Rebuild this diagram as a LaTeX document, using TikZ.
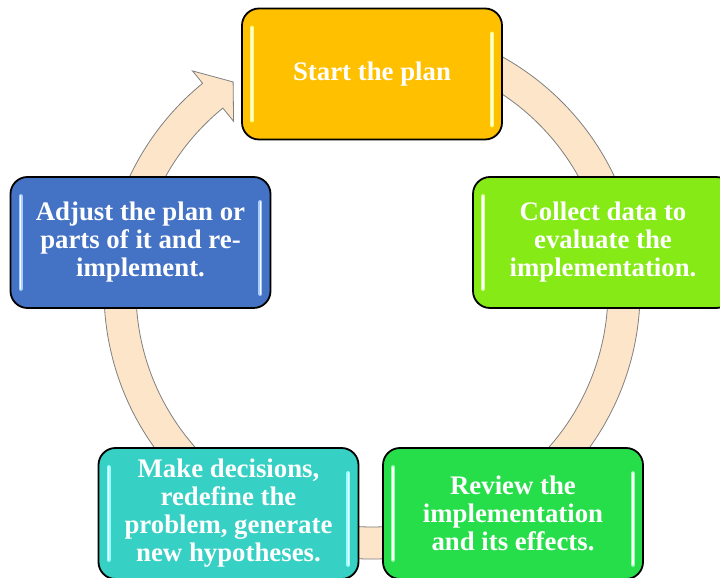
\documentclass[tikz,border=0pt]{standalone}
\usepackage{fontspec}
\setmainfont{Liberation Serif}
\usetikzlibrary{calc}
\definecolor{ringfill}{RGB}{253,229,201}
\definecolor{ringline}{RGB}{128,128,128}
\definecolor{cone}{RGB}{255,192,0}
\definecolor{ctwo}{RGB}{134,234,22}
\definecolor{cthree}{RGB}{38,222,74}
\definecolor{cfour}{RGB}{54,208,196}
\definecolor{cfive}{RGB}{68,114,196}
\definecolor{gone}{RGB}{255,255,100}
\definecolor{gtwo}{RGB}{220,255,160}
\definecolor{gthree}{RGB}{150,255,170}
\definecolor{gfour}{RGB}{150,255,255}
\definecolor{gfive}{RGB}{170,205,255}
\tikzset{
  box/.style={draw=black, line width=1.8pt, rounded corners=17pt,
    minimum width=260pt, minimum height=131pt, text=white, inner sep=0pt,
    font=\bfseries\fontsize{26.8}{28}\selectfont, align=center},
  gloss/.style={draw=#1, line width=4pt, line cap=round},
  glosscore/.style={draw=white, line width=1.4pt, line cap=round},
  ring/.style={fill=ringfill, draw=ringline, line width=0.8pt, line join=miter}
}
\begin{document}
\begin{tikzpicture}[x=1pt,y=1pt]
\useasboundingbox (0,0) rectangle (720,578);
\fill[white] (0,0) rectangle (720,578);
\coordinate (c) at (372,287);
% ring arrow
\draw[ring] ($(c)+(100:268pt)$) arc[start angle=100,end angle=-230.8,radius=268pt]
  -- ($(c)+(129.2:284pt)$) -- ($(c)+(123.6:251pt)$) -- ($(c)+(129.2:219pt)$)
  -- ($(c)+(129.2:236pt)$) arc[start angle=-230.8,end angle=100,radius=236pt] -- cycle;
% boxes
\node[box, fill=cone]   (b1) at (372,504)   {Start the plan};
\node[box, fill=ctwo]   (b2) at (603,335.5) {Collect data to\\evaluate the\\implementation.};
\node[box, fill=cthree] (b3) at (513,64.5)  {Review the\\implementation\\and its effects.};
\node[box, fill=cfour]  (b4) at (228.5,64.5){Make decisions,\\redefine the\\problem, generate\\new hypotheses.};
\node[box, fill=cfive]  (b5) at (140.5,335.5){Adjust the plan or\\parts of it and re-\\implement.};
% gloss strips
\foreach \b/\col in {b1/gone,b2/gtwo,b3/gthree,b4/gfour,b5/gfive}{
  \draw[gloss=\col] ([xshift=11pt,yshift=-20pt]\b.north west) -- ([xshift=11pt,yshift=20pt]\b.south west);
  \draw[gloss=\col] ([xshift=-11pt,yshift=-26pt]\b.north east) -- ([xshift=-11pt,yshift=15pt]\b.south east);
  \draw[glosscore] ([xshift=11pt,yshift=-20pt]\b.north west) -- ([xshift=11pt,yshift=20pt]\b.south west);
  \draw[glosscore] ([xshift=-11pt,yshift=-26pt]\b.north east) -- ([xshift=-11pt,yshift=15pt]\b.south east);
}
\end{tikzpicture}
\end{document}
